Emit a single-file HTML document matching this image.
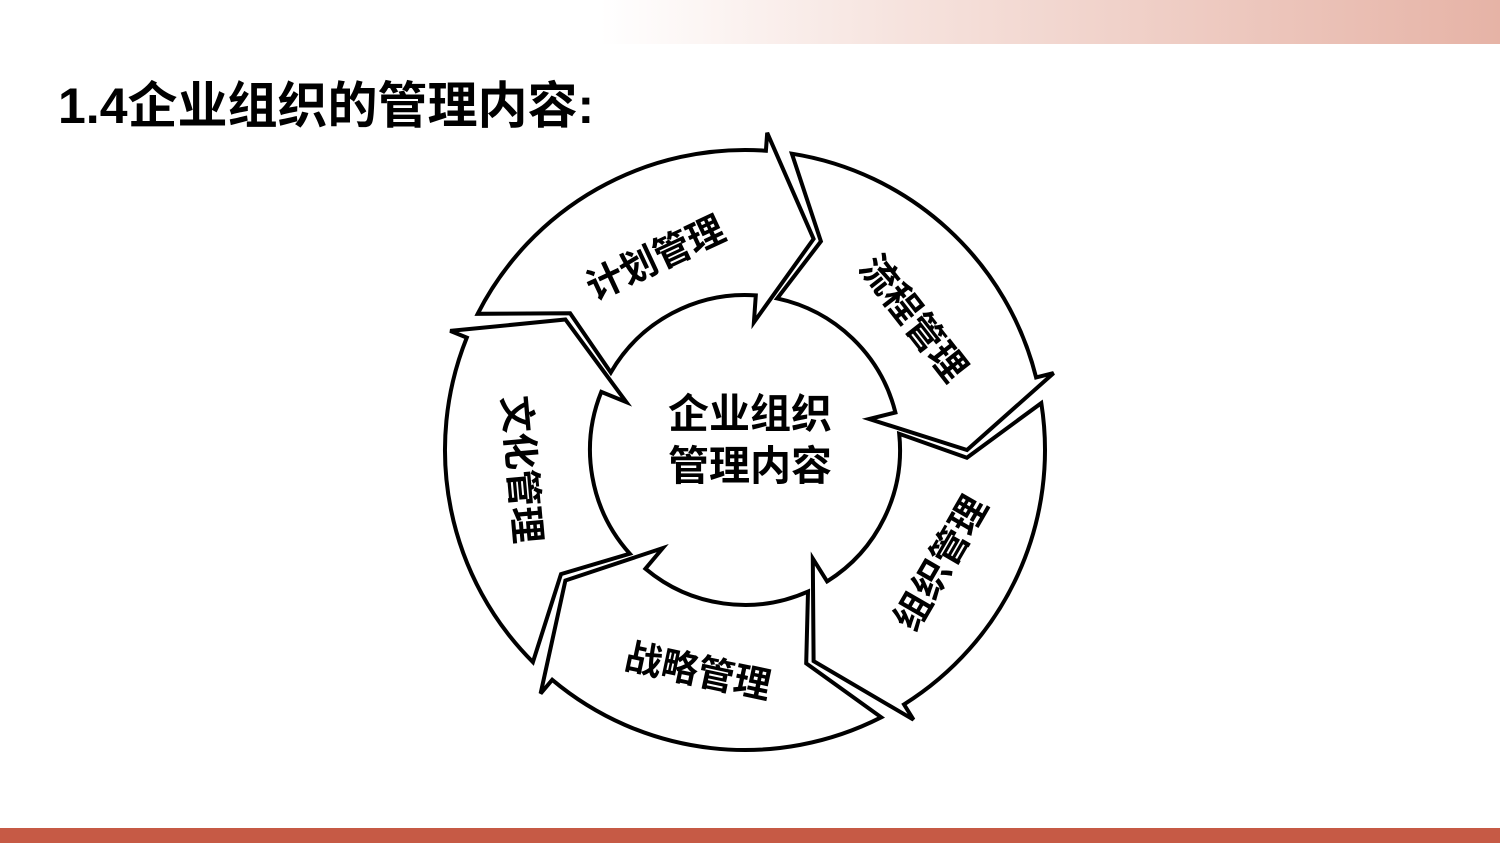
<!DOCTYPE html>
<html><head><meta charset="utf-8"><style>
html,body{margin:0;padding:0;width:1500px;height:843px;overflow:hidden;background:#fff;}
.top{position:absolute;left:0;top:0;width:1500px;height:44px;background:linear-gradient(90deg,#fff 0%,#fff 40%,#f6e3de 60%,#e6b3a6 100%);}
.bot{position:absolute;left:0;top:828px;width:1500px;height:15px;background:#c65a45;}
.title{position:absolute;left:58px;top:76px;font:bold 50px "Liberation Sans","Noto Sans CJK SC",sans-serif;color:#000;white-space:nowrap;line-height:60px;}
svg{position:absolute;left:0;top:0;}
</style></head><body>
<div class="top"></div>
<div class="title">1.4企业组织的管理内容:</div>
<svg id="s" width="1500" height="843" viewBox="0 0 1500 843" font-family="Liberation Sans, Noto Sans CJK SC, sans-serif" font-weight="bold">
<g id="arrows" fill="#fff" stroke="#000" stroke-width="4" stroke-linejoin="miter"></g>
<text x="750" y="428" font-size="41" text-anchor="middle">企业组织</text>
<text x="750" y="480" font-size="41" text-anchor="middle">管理内容</text>
<g id="labels" font-size="37" text-anchor="middle"></g>
</svg>
<div class="bot"></div>
<script>
var cx=745,cy=450;
function P(t,r){var a=t*Math.PI/180;return (cx+r*Math.sin(a)).toFixed(1)+","+(cy-r*Math.cos(a)).toFixed(1);}
var g=document.getElementById("arrows"),L=document.getElementById("labels");
var Ts=[-63,9,81,153,225];
Ts.forEach(function(T){
 var d="M"+P(T,300)+" A300,300 0 0 1 "+P(T+67,300)+" L"+P(T+67,318)+" L"+P(T+81,222)+" L"+P(T+67,128)+" L"+P(T+67,155)+" A155,155 0 0 0 "+P(T+3,155)+" L"+P(T+11,222)+" Z";
 var p=document.createElementNS("http://www.w3.org/2000/svg","path");p.setAttribute("d",d);g.appendChild(p);
});
var labs=[["计划管理",-25,0,212],["流程管理",52,0,214],["组织管理",120,-180,226],["战略管理",192,-180,226],["文化管理",265,-180,224]];
labs.forEach(function(l){
 var a=l[1]*Math.PI/180,x=cx+l[3]*Math.sin(a),y=cy-l[3]*Math.cos(a);
 var t=document.createElementNS("http://www.w3.org/2000/svg","text");
 t.setAttribute("x",x);t.setAttribute("y",y+13);t.setAttribute("transform","rotate("+(l[1]+l[2])+" "+x+" "+y+")");
 t.textContent=l[0];L.appendChild(t);
});
</script>
</body></html>
